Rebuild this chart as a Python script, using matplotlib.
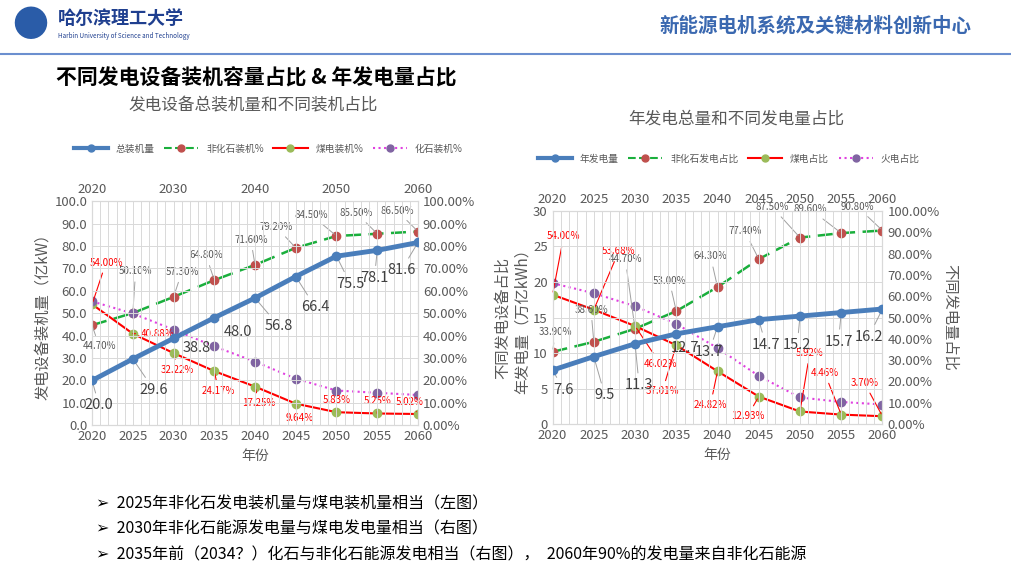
import matplotlib
matplotlib.use("Agg")
import matplotlib.pyplot as plt
from matplotlib.lines import Line2D

plt.rcParams['font.family'] = ['Noto Sans CJK SC', 'DejaVu Sans']

years = [2020, 2025, 2030, 2035, 2040, 2045, 2050, 2055, 2060]

# left chart: installed capacity
cap_total = [20.0, 29.6, 38.8, 48.0, 56.8, 66.4, 75.5, 78.1, 81.6]
cap_nonfossil = [44.7, 50.1, 57.3, 64.8, 71.6, 79.2, 84.5, 85.5, 86.5]
cap_coal = [54.0, 40.88, 32.22, 24.17, 17.25, 9.64, 5.83, 5.25, 5.02]
cap_fossil = [55.3, 49.9, 42.7, 35.2, 28.4, 20.8, 15.5, 14.5, 13.5]

# right chart: annual generation
gen_total = [7.6, 9.5, 11.3, 12.7, 13.7, 14.7, 15.2, 15.7, 16.2]
gen_nonfossil = [33.9, 38.6, 44.7, 53.0, 64.3, 77.4, 87.5, 89.6, 90.8]
gen_coal = [60.7, 53.68, 46.02, 37.01, 24.82, 12.93, 5.92, 4.46, 3.70]
gen_coal_labels = ["54.00%", "53.68%", "46.02%", "37.01%", "24.82%", "12.93%", "5.92%", "4.46%", "3.70%"]
gen_fossil = [66.1, 61.4, 55.3, 47.0, 35.7, 22.6, 12.5, 10.4, 9.2]

bullets = ["2025年非化石发电装机量与煤电装机量相当（左图）",
           "2030年非化石能源发电量与煤电发电量相当（右图）",
           "2035年前（2034？）化石与非化石能源发电相当（右图），  2060年90%的发电量来自非化石能源"]

BLUE = '#4a7ebb'
GREEN = '#1aaf3c'
RED = '#ff0000'
PINK = '#e040e0'
GRAY = '#595959'

fig = plt.figure(figsize=(10.12, 5.67), dpi=100)

# header
fig.text(0.012, 0.955, "●", fontsize=26, color='#2a5ca8', va='center')
fig.text(0.057, 0.968, "哈尔滨理工大学", fontsize=13, fontweight='bold', color='#1f3f8f', va='center')
fig.text(0.057, 0.937, "Harbin University of Science and Technology", fontsize=4.5, color='#1f3f8f', va='center')
fig.text(0.96, 0.955, "新能源电机系统及关键材料创新中心", fontsize=14, fontweight='bold',
         color='#3a68b0', ha='right', va='center', style='italic')
fig.add_artist(plt.Line2D([0.0, 1.0], [0.905, 0.905], color='#6b8fcf', lw=1.5))
fig.text(0.055, 0.862, "不同发电设备装机容量占比 & 年发电量占比", fontsize=15, fontweight='bold', va='center')
for i, b in enumerate(bullets):
    fig.text(0.095, 0.112 - i * 0.045, "➢  " + b, fontsize=11.5, va='center',
             family=['Noto Sans CJK SC', 'DejaVu Sans'])


def style(ax, axr, ymax, ystep, yfmt, ylabel, rlabel):
    ax.set_xlim(2020, 2060)
    ax.set_xticks(years)
    ax.set_xticks(range(2020, 2061, 1), minor=True)
    ax.grid(True, which='both', axis='x', color='#d9d9d9', lw=0.7)
    ax.grid(True, axis='y', color='#d9d9d9', lw=0.7)
    n = int(round(ymax / ystep))
    ax.set_ylim(0, ymax)
    ax.set_yticks([ystep * k for k in range(n + 1)])
    ax.set_yticklabels([yfmt.format(ystep * k) for k in range(n + 1)])
    axr.set_ylim(0, 100)
    axr.set_yticks(range(0, 101, 10))
    axr.set_yticklabels([f"{v:.2f}%" for v in range(0, 101, 10)])
    for a in (ax, axr):
        a.tick_params(which='both', length=0, labelsize=9.5, colors=GRAY)
        for s in a.spines.values():
            s.set_color('#d9d9d9')
    ax.set_ylabel(ylabel, fontsize=11, color=GRAY, labelpad=2)
    if rlabel:
        axr.set_ylabel(rlabel, fontsize=11, color=GRAY, rotation=270, labelpad=14)
    ax.set_xlabel("年份", fontsize=10, color=GRAY)


def draw(ax, axr, total, nonf, coal, foss, coal_labels, off_total, off_nonf, off_coal):
    axr.plot(years, nonf, '--', color=GREEN, lw=1.8, dashes=(6, 3),
             marker='o', mfc='#c0504d', mec='#c0504d', ms=6)
    axr.plot(years, coal, '-', color=RED, lw=1.5, marker='o', mfc='#9bbb59', mec='#9bbb59', ms=6)
    axr.plot(years, foss, ':', color=PINK, lw=1.5, marker='o', mfc='#8064a2', mec='#8064a2', ms=6)
    ax.plot(years, total, '-', color=BLUE, lw=3.5, marker='o', ms=6, zorder=5)
    ax.set_zorder(axr.get_zorder() + 1)
    ax.patch.set_visible(False)
    arrow_g = dict(arrowstyle='-', color='#a0a0a0', lw=0.7)
    arrow_r = dict(arrowstyle='-', color=RED, lw=0.8)
    for x, v, o in zip(years, total, off_total):
        ax.annotate(f"{v:.1f}", (x, v), xytext=o, textcoords='offset points',
                    fontsize=10.5, color='#404040', ha='center', va='center', arrowprops=arrow_g)
    for x, v, o in zip(years, nonf, off_nonf):
        axr.annotate(f"{v:.2f}%", (x, v), xytext=o, textcoords='offset points',
                     fontsize=7, color=GRAY, ha='center', va='center', arrowprops=arrow_g)
    for x, v, t, o in zip(years, coal, coal_labels, off_coal):
        axr.annotate(t, (x, v), xytext=o, textcoords='offset points',
                     fontsize=7, color=RED, ha='center', va='center', arrowprops=arrow_r)


ax1 = fig.add_axes([0.091, 0.250, 0.322, 0.395])
ax1r = ax1.twinx()
style(ax1, ax1r, 100, 10, "{:.1f}", "发电设备装机量（亿kW）", None)
draw(ax1, ax1r, cap_total, cap_nonfossil, cap_coal, cap_fossil, [f"{v:.2f}%" for v in cap_coal],
     [(5, -18), (15, -22), (17, -7), (17, -10), (17, -20), (14, -22), (10, -20), (-2, -20), (-12, -20)],
     [(5, -15), (2, 30), (6, 18), (-6, 18), (-3, 18), (-14, 15), (-18, 15), (-15, 15), (-15, 15)],
     [(10, 30), (18, 0), (3, -12), (3, -14), (3, -12), (3, -10), (0, 9), (0, 9), (-6, 9)])
ax1t = ax1.secondary_xaxis('top')
ax1t.set_xticks(range(2020, 2061, 10))
ax1t.tick_params(length=0, labelsize=9.5, colors=GRAY)
ax1t.spines['top'].set_visible(False)
fig.text(0.25, 0.805, "发电设备总装机量和不同装机占比", fontsize=12, color=GRAY, ha='center')

ax2 = fig.add_axes([0.546, 0.252, 0.326, 0.376])
ax2r = ax2.twinx()
style(ax2, ax2r, 30, 5, "{:.0f}", "年发电量（万亿kWh）", "不同发电量占比")
draw(ax2, ax2r, gen_total, gen_nonfossil, gen_coal, gen_fossil, gen_coal_labels,
     [(8, -14), (8, -28), (3, -30), (6, -10), (-6, -18), (5, -18), (-2, -21), (-2, -21), (-10, -20)],
     [(2, 14), (-2, 23), (-7, 50), (-5, 22), (-5, 22), (-10, 20), (-20, 22), (-22, 17), (-18, 17)],
     [(8, 42), (18, 42), (18, -27), (-10, -33), (-5, -24), (-8, -14), (7, 42), (-12, 30), (-13, 24)])
ax2t = ax2.secondary_xaxis('top')
ax2t.set_xticks(years)
ax2t.tick_params(length=0, labelsize=9.5, colors=GRAY)
ax2t.spines['top'].set_visible(False)
fig.text(0.728, 0.782, "年发电总量和不同发电量占比", fontsize=12, color=GRAY, ha='center')
fig.text(0.488, 0.44, "不同发电设备占比", fontsize=11, color=GRAY, rotation=90, va='center')


def legend(x, y, names):
    h = [Line2D([], [], color=BLUE, lw=3, marker='o', ms=5),
         Line2D([], [], color=GREEN, ls='--', lw=1.5, marker='o', mfc='#c0504d', mec='#c0504d', ms=5),
         Line2D([], [], color=RED, lw=1.5, marker='o', mfc='#9bbb59', mec='#9bbb59', ms=5),
         Line2D([], [], color=PINK, ls=':', lw=1.5, marker='o', mfc='#8064a2', mec='#8064a2', ms=5)]
    fig.legend(h, names, loc='center', bbox_to_anchor=(x, y), ncol=4, frameon=False,
               fontsize=7, labelcolor=GRAY, handlelength=3.5, columnspacing=1.0)


legend(0.265, 0.738, ["总装机量", "非化石装机%", "煤电装机%", "化石装机%"])
legend(0.72, 0.72, ["年发电量", "非化石发电占比", "煤电占比", "火电占比"])

fig.savefig("out.png", dpi=100)
